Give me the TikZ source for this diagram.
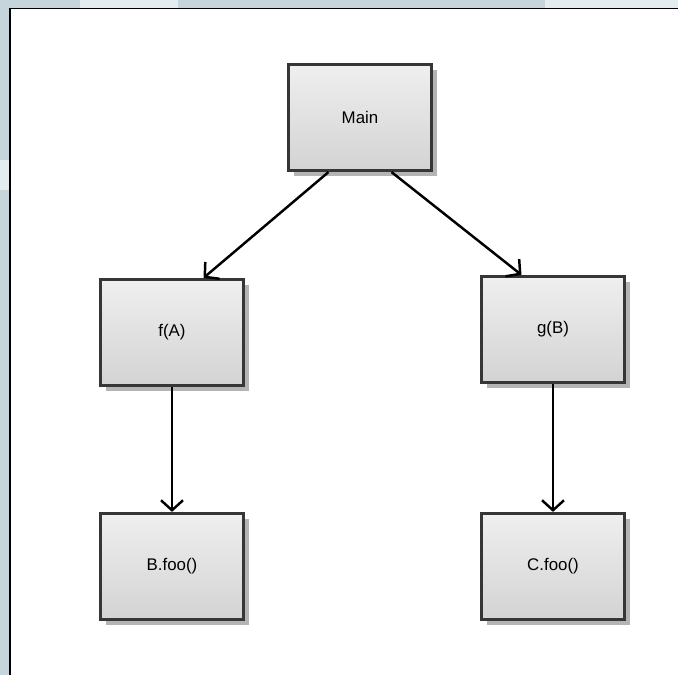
\documentclass[tikz,border=0pt]{standalone}
\usepackage{fontspec}
\setmainfont{Liberation Sans}
\usetikzlibrary{arrows.meta,shadows}
\definecolor{winblue}{HTML}{C6D4DB}
\definecolor{winpale}{HTML}{E4ECF0}
\definecolor{boxtop}{HTML}{EFEFEF}
\definecolor{boxbot}{HTML}{D3D3D3}
\definecolor{boxline}{HTML}{363636}
\definecolor{shade}{HTML}{B4B4B4}
\begin{document}
\begin{tikzpicture}[>={Straight Barb[length=2mm,width=4.4mm]},
    call/.style={rectangle, draw=boxline, line width=1.8pt, minimum width=2.86cm, minimum height=2.12cm,
        top color=boxtop, bottom color=boxbot, font=\fontsize{9.6}{11}\selectfont,
        drop shadow={shadow xshift=0.11cm, shadow yshift=-0.11cm, fill=shade, opacity=1}},
    link/.style={->, line width=1.4pt}]
            \useasboundingbox (0,0) rectangle (13.56,13.5);
            % window edges behind the canvas
            \fill[winblue] (0,0) rectangle (0.19,13.5);
            \fill[winpale] (0,9.7) rectangle (0.19,10.3);
            \fill[winblue] (0,13.34) rectangle (1.6,13.5);
            \fill[winpale] (1.6,13.34) rectangle (3.55,13.5);
            \fill[winblue] (3.55,13.34) rectangle (10.9,13.5);
            \fill[winpale] (10.9,13.34) rectangle (13.56,13.5);
            \draw[line width=1.1pt] (0.2,0) -- (0.2,13.33) -- (13.56,13.33);
            % call tree
            \node[call] (main) at (7.2,11.15) {Main};
            \node[call] (fa) at (3.44,6.85) {f(A)};
            \node[call] (gb) at (11.06,6.91) {g(B)};
            \node[call] (bfoo) at (3.44,2.17) {B.foo()};
            \node[call] (cfoo) at (11.06,2.17) {C.foo()};
            \draw[link] (main.240) -- (fa.60);
            \draw[link] (main.300) -- (gb.120);
            \draw[link] (fa) -- (bfoo);
            \draw[link] (gb) -- (cfoo);
        \end{tikzpicture}
\end{document}
